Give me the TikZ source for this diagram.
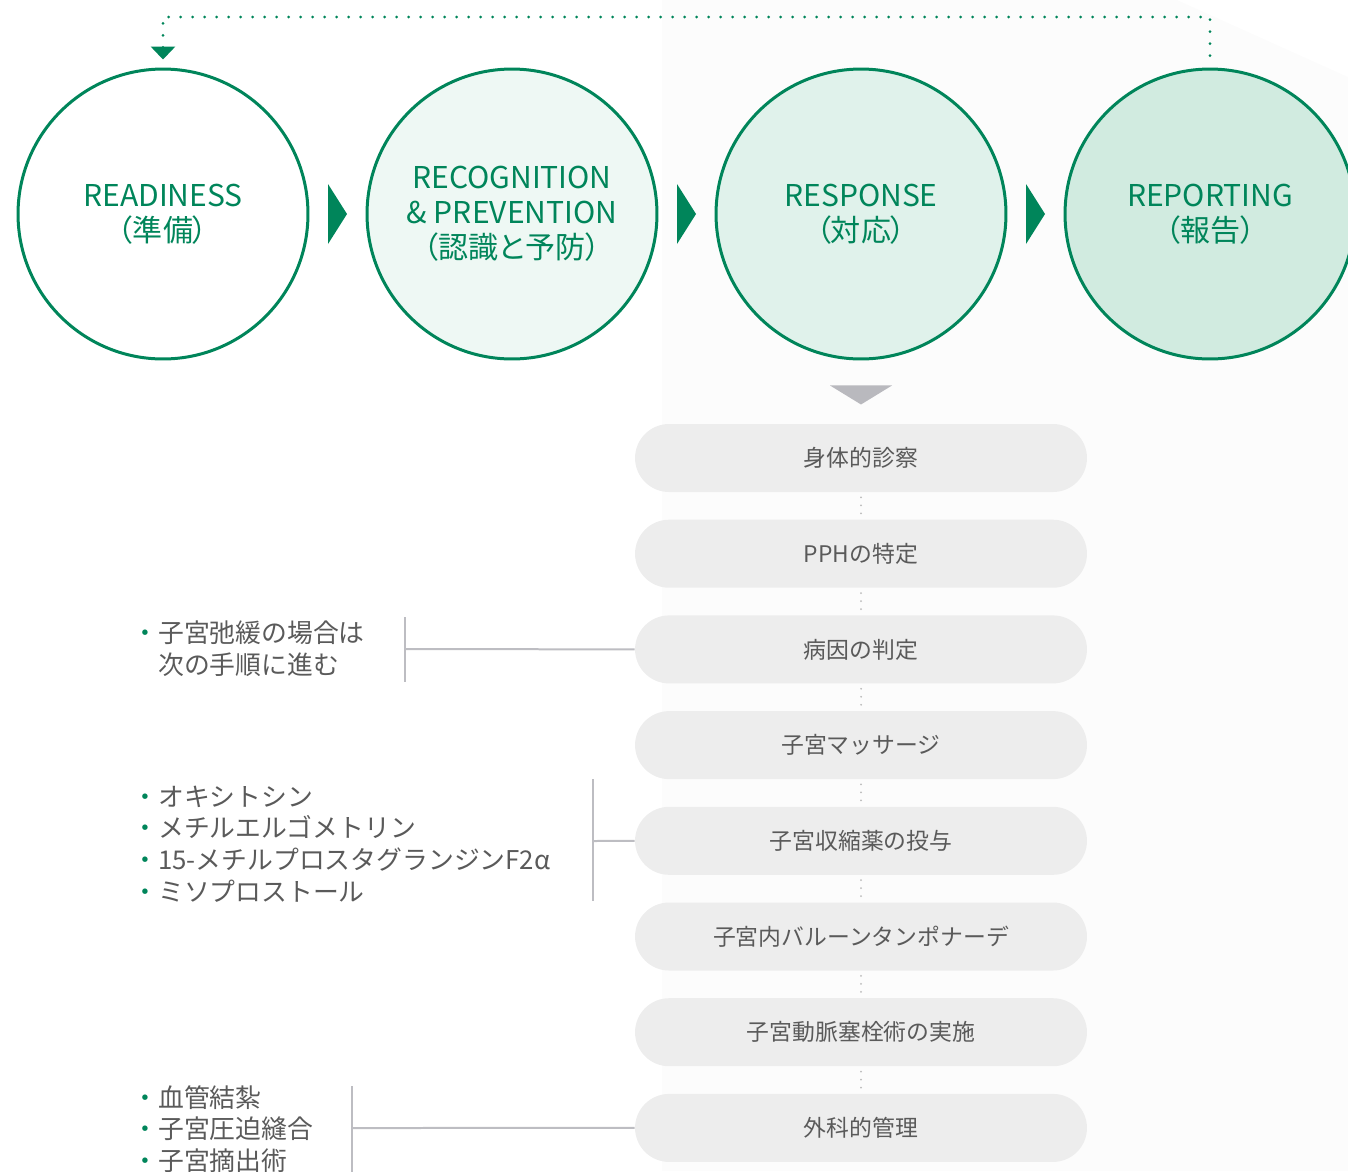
\documentclass[tikz,border=0pt]{standalone}
\usepackage{fontspec}
\setmainfont{Noto Sans CJK JP}
\newfontfamily\stagefont[RawFeature=+palt]{Noto Sans CJK JP}
\usetikzlibrary{arrows.meta,calc}

\definecolor{pphgreen}{HTML}{00855A}
\definecolor{recogfill}{HTML}{EEF8F4}
\definecolor{respfill}{HTML}{E0F2EB}
\definecolor{reportfill}{HTML}{D1EBE0}
\definecolor{pillgray}{HTML}{EDEDED}
\definecolor{txtgray}{HTML}{5A5A5A}
\definecolor{linegray}{HTML}{BDBDC2}
\definecolor{dotgray}{HTML}{BBBBBB}
\definecolor{tipgray}{HTML}{B9B9BE}
\definecolor{bggray}{HTML}{FCFCFC}

\tikzset{
  stage/.style={circle,draw=pphgreen,line width=0.06cm,minimum size=5.8cm,inner sep=0pt,
    align=center,text=pphgreen,font=\stagefont\fontsize{17.1}{20}\selectfont},
  pill/.style={rectangle,rounded corners=0.68cm,fill=pillgray,minimum width=9.04cm,
    minimum height=1.36cm,text=txtgray,font=\fontsize{13}{15}\selectfont},
  stepdots/.style={draw=dotgray,line width=0.04cm,line cap=round,dash pattern=on 0pt off 0.16cm,
    shorten <=0.1cm,shorten >=0.06cm},
  loopline/.style={draw=pphgreen,line width=0.06cm,line cap=round,dash pattern=on 0pt off 0.24cm},
  bracket/.style={draw=linegray,line width=0.04cm},
  notes/.style={anchor=west,align=left,inner sep=0pt,text=txtgray,font=\fontsize{14.7}{18.1}\selectfont}
}

\begin{document}
\begin{tikzpicture}[x=0.02cm,y=-0.02cm]
\clip (0,0) rectangle (1348,1171);
\fill[bggray] (662,0) -- (1177,0) -- (1348,77) -- (1348,1171) -- (662,1171) -- cycle;

\node[stage] (ready) at (163,214) {READINESS\\（準備）};
\node[stage,fill=recogfill] (recog) at (512,214) {RECOGNITION\\\& PREVENTION\\（認識と予防）};
\node[stage,fill=respfill] (resp) at (861,214) {RESPONSE\\（対応）};
\node[stage,fill=reportfill] (report) at (1210,214) {REPORTING\\（報告）};

\foreach \a/\b in {ready/recog, recog/resp, resp/report}
  \fill[pphgreen] ($(\a.east)!0.5!(\b.west)+(-9.5,-30)$) -- ++(19,30) -- ++(-19,30) -- cycle;

\draw[loopline,-{Triangle[width=0.48cm,length=0.26cm]}] ($(report.north)+(0,-12)$) |- (163,17) -- ($(ready.north)+(0,-8)$);

\fill[tipgray] ($(resp.south)+(-31,25)$) -- ++(62,0) -- ++(-31,19) -- cycle;

\foreach \i/\nm/\txt in {0/exam/身体的診察, 1/pph/PPHの特定, 2/cause/病因の判定, 3/massage/子宮マッサージ,
    4/drug/子宮収縮薬の投与, 5/balloon/子宮内バルーンタンポナーデ, 6/embol/子宮動脈塞栓術の実施, 7/surgery/外科的管理}
  \node[pill] (\nm) at (861,{458+95.7*\i}) {\txt};
\foreach \a/\b in {exam/pph, pph/cause, cause/massage, massage/drug, drug/balloon, balloon/embol, embol/surgery}
  \draw[stepdots] (\a.south) -- (\b.north);

\node[notes] (atony) at (132,649) {\textcolor{pphgreen}{・}子宮弛緩の場合は\\\hphantom{・}次の手順に進む};
\node[notes] (drugs) at (132,844) {\textcolor{pphgreen}{・}オキシトシン\\\textcolor{pphgreen}{・}メチルエルゴメトリン\\\textcolor{pphgreen}{・}15-メチルプロスタグランジンF2α\\\textcolor{pphgreen}{・}ミソプロストール};
\node[notes] (ops) at (132,1129) {\textcolor{pphgreen}{・}血管結紮\\\textcolor{pphgreen}{・}子宮圧迫縫合\\\textcolor{pphgreen}{・}子宮摘出術};

\draw[bracket] (405,617) -- (405,682);
\coordinate (b1) at (405,649);
\draw[bracket] (b1) -- (cause.west);
\draw[bracket] (593,779) -- (593,901);
\coordinate (b2) at (593,841);
\draw[bracket] (b2) -- (drug.west);
\draw[bracket] (352,1086) -- (352,1175);
\coordinate (b3) at (352,1128);
\draw[bracket] (b3) -- (surgery.west);
\end{tikzpicture}
\end{document}
